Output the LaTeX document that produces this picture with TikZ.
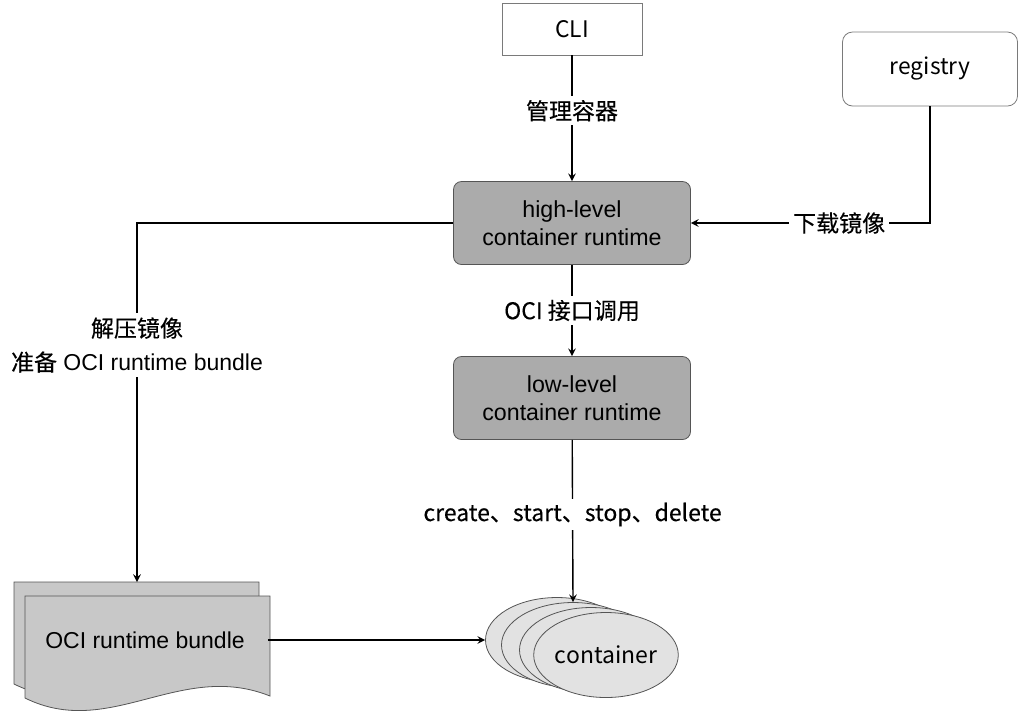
\documentclass[tikz,border=0pt]{standalone}
\usepackage{fontspec}
\setmainfont{Liberation Sans}
\newfontfamily\cjk{Noto Sans CJK SC}
\newfontfamily\cjkb[FakeBold=0.25]{Noto Sans CJK SC}
\usetikzlibrary{shapes.geometric}
\definecolor{boxgray}{HTML}{ABABAB}
\definecolor{docgray}{HTML}{C8C8C8}
\definecolor{contgray}{HTML}{E2E2E2}
\definecolor{darkline}{HTML}{555555}
\definecolor{lightline}{HTML}{7A7A7A}
\tikzset{>=stealth}
\tikzset{
    runtime/.style={draw=darkline, fill=boxgray, rounded corners=4pt,
        minimum width=118.5pt, minimum height=41.5pt, align=center,
        font=\fontsize{11.6}{14}\selectfont},
    outside/.style={draw=lightline, fill=white,
        font=\cjk\fontsize{11.4}{13}\selectfont},
    cont/.style={ellipse, draw=darkline, fill=contgray, inner sep=0pt,
        minimum width=71.5pt, minimum height=42.5pt,
        font=\fontsize{11.5}{13}\selectfont},
    doc/.style={draw=darkline, fill=docgray},
    conn/.style={->, line width=0.7pt},
    lbl/.style={fill=white, inner sep=2pt, align=center,
        font=\fontsize{11.5}{17}\selectfont},
}

\begin{document}
\begin{tikzpicture}[x=0.5pt, y=-0.5pt]
    \useasboundingbox (0,0) rectangle (1026,714);
    % boxes
    \node[outside, minimum width=70pt, minimum height=26pt] (cli) at (572,29) {CLI};
    \node[outside, rounded corners=5pt, minimum width=87.5pt, minimum height=37pt] (registry) at (930,69) {registry};
    \node[runtime] (high) at (572,223) {high-level\\container runtime};
    \node[runtime] (low) at (572,398) {low-level\\container runtime};
    % bundle, two pages
    \path[doc] (14,582) -- (259,582) -- (259,682) .. controls (169,646) and (99,726) .. (14,684) -- cycle;
    \path[doc] (25,596) -- (270,596) -- (270,696) .. controls (180,660) and (110,740) .. (25,698) -- cycle;
    \node[inner sep=0pt, minimum width=122.5pt, minimum height=44pt, font=\fontsize{11.5}{13}\selectfont] (bundle) at (145,640) {OCI runtime bundle};
    \coordinate (bundletop) at (137,582);
    % containers
    \foreach \i/\x/\y in {1/557/640, 2/573/645, 3/591/650}
        \node[cont] (c\i) at (\x,\y) {};
    \node[cont, font=\cjk\fontsize{11.5}{13}\selectfont] (c4) at (606,655) {container};
    % connectors
    \draw[conn] (cli) -- node[lbl, pos=0.44] {\cjkb 管理容器} (high);
    \draw[conn] (registry.south) |- node[lbl, pos=0.69] {\cjkb 下载镜像} (high.east);
    \draw[conn] (high) -- node[lbl] {\cjkb OCI 接口调用} (low);
    \draw[conn] (low) -- node[lbl, pos=0.46, font=\cjkb\fontsize{11.5}{13}\selectfont] {create、start、stop、delete} (c2.north);
    \draw[conn] (high.west) -| node[lbl, pos=0.67] {{\cjkb 解压镜像}\\{\cjkb 准备} OCI runtime bundle} (bundletop);
    \draw[conn] (bundle.east) -- (c1.west);
\end{tikzpicture}
\end{document}
